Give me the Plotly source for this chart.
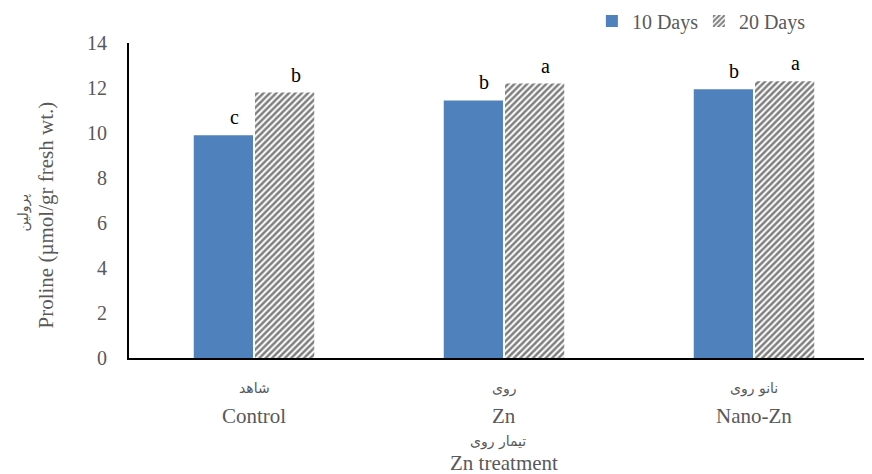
import plotly.graph_objects as go

categories = ["Control", "Zn", "Nano-Zn"]
categories_fa = ["شاهد", "روی", "نانو روی"]
days10 = [9.9, 11.45, 11.95]
days20 = [11.8, 12.2, 12.3]
letters10 = ["c", "b", "b"]
letters20 = ["b", "a", "a"]
yticks = [0, 2, 4, 6, 8, 10, 12, 14]

BLUE = "#4F81BD"
GREY = "#595959"
SERIF = "Liberation Serif, Times New Roman, serif"
FA = "DejaVu Sans, Noto Sans, sans-serif"

# the page body adds an 8px offset, so the figure is sized to fit the window
W, H = 864, 466

x_idx = list(range(len(categories)))

fig = go.Figure()
fig.add_trace(go.Bar(
    x=x_idx, y=days10, name="10 Days",
    marker=dict(color=BLUE, line=dict(width=0)),
))
fig.add_trace(go.Bar(
    x=x_idx, y=days20, name="20 Days",
    marker=dict(color="white", line=dict(width=0),
                pattern=dict(shape="/", fgcolor="black", bgcolor="white",
                             size=4.5, solidity=0.55)),
))

bargap = 0.51
bargroupgap = 0.033
slot = (1 - bargap) / 2
annotations = []
for i in x_idx:
    for vals, lets, sign in ((days10, letters10, -1), (days20, letters20, 1)):
        annotations.append(dict(
            x=i + sign * slot / 2, y=vals[i], xref="x", yref="y",
            text=lets[i], showarrow=False, yanchor="bottom", xshift=11, yshift=5,
            font=dict(family=SERIF, size=20, color="black")))
    annotations.append(dict(
        x=i, y=0, xref="x", yref="paper", text=categories_fa[i], showarrow=False,
        yanchor="middle", yshift=-30, font=dict(family=FA, size=14, color=GREY)))
    annotations.append(dict(
        x=i, y=0, xref="x", yref="paper", text=categories[i], showarrow=False,
        yanchor="middle", yshift=-58, font=dict(family=SERIF, size=21, color=GREY)))

annotations += [
    dict(x=1, y=0, xref="x", yref="paper", text="تیمار روی", showarrow=False,
         yanchor="middle", xshift=-6, yshift=-83,
         font=dict(family=FA, size=14, color=GREY)),
    dict(x=1, y=0, xref="x", yref="paper", text="Zn treatment", showarrow=False,
         yanchor="middle", yshift=-105, font=dict(family=SERIF, size=21, color=GREY)),
    dict(x=0, y=0.5, xref="paper", yref="paper", text="پرولین", showarrow=False,
         textangle=-90, xanchor="center", yanchor="middle", xshift=-106, yshift=-12,
         font=dict(family=FA, size=14, color=GREY)),
    dict(x=0, y=0.5, xref="paper", yref="paper", text="Proline (µmol/gr fresh wt.)",
         showarrow=False, textangle=-90, xanchor="center", yanchor="middle",
         xshift=-84, yshift=-15, font=dict(family=SERIF, size=21, color=GREY)),
]

fig.update_layout(
    width=W, height=H,
    margin=dict(l=121, r=0, t=35, b=116, autoexpand=False),
    plot_bgcolor="white", paper_bgcolor="white",
    barmode="group", bargap=bargap, bargroupgap=bargroupgap,
    showlegend=True,
    legend=dict(orientation="h", x=0.623, y=1 - 13 / H, xref="paper", yref="container",
                xanchor="left", yanchor="middle",
                font=dict(family=SERIF, size=20, color=GREY),
                itemwidth=30, entrywidth=62, entrywidthmode="pixels"),
    annotations=annotations,
    xaxis=dict(range=[-0.5, 2.472], showticklabels=False, ticks="",
               showline=True, linecolor="black", linewidth=2, showgrid=False,
               zeroline=False),
    yaxis=dict(range=[0, 14], tickvals=yticks, showline=True, linecolor="black",
               linewidth=2, showgrid=False, zeroline=False, ticks="",
               ticklabelstandoff=16,
               tickfont=dict(family=SERIF, size=20, color=GREY)),
)

fig.write_html("out.html")
